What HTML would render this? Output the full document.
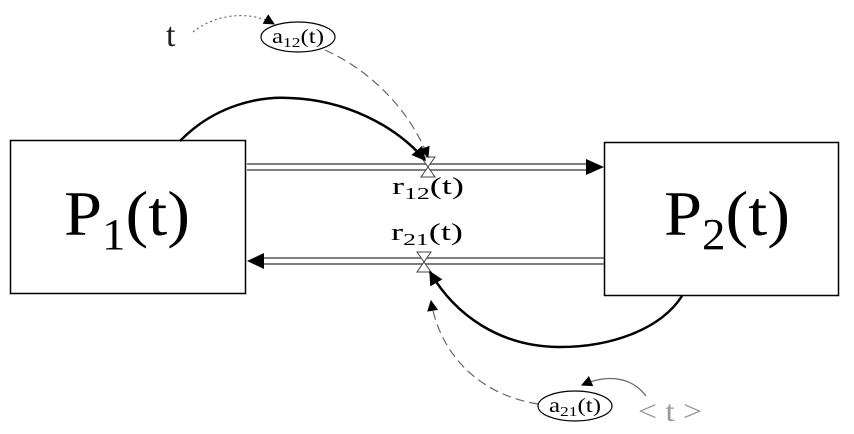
<!DOCTYPE html>
<html><head><meta charset="utf-8"><style>
html,body{margin:0;padding:0;background:#fff;}
svg{display:block;}
text{font-family:"Liberation Serif","DejaVu Serif",serif;}
</style></head><body>
<svg width="854" height="434" viewBox="0 0 854 434" xmlns="http://www.w3.org/2000/svg">
<defs>
<marker id="ahb" viewBox="0 0 10 10" refX="9" refY="5" markerWidth="18" markerHeight="14" orient="auto" markerUnits="userSpaceOnUse"><path d="M0,0 L10,5 L0,10 z" fill="#000"/></marker>
<marker id="ahs" viewBox="0 0 10 10" refX="9" refY="5" markerWidth="13" markerHeight="11" orient="auto" markerUnits="userSpaceOnUse"><path d="M0,0 L10,5 L0,10 z" fill="#000"/></marker>
</defs>
<rect x="10.5" y="140.5" width="235" height="153" fill="#fff" stroke="#000" stroke-width="1.5"/>
<rect x="604.5" y="142.5" width="234" height="153" fill="#fff" stroke="#000" stroke-width="1.5"/>
<text x="64" y="235" font-size="64" textLength="126" lengthAdjust="spacingAndGlyphs">P<tspan font-size="44" dy="14">1</tspan><tspan dy="-14">(t)</tspan></text>
<text x="664" y="235" font-size="64" textLength="126" lengthAdjust="spacingAndGlyphs">P<tspan font-size="44" dy="14">2</tspan><tspan dy="-14">(t)</tspan></text>
<line x1="247" y1="164" x2="590" y2="164" stroke="#555" stroke-width="1.5"/>
<line x1="247" y1="170" x2="590" y2="170" stroke="#555" stroke-width="1.5"/>
<path d="M586,159 L604,167 L586,175 z" fill="#000"/>
<path d="M421,157 L435,157 L421,177 L435,177 z" fill="#fff" stroke="#444" stroke-width="1"/>
<text x="392" y="194" font-size="24" textLength="72" lengthAdjust="spacingAndGlyphs">r<tspan font-size="17" dy="5">12</tspan><tspan dy="-5">(t)</tspan></text>
<line x1="262" y1="258" x2="604" y2="258" stroke="#555" stroke-width="1.5"/>
<line x1="262" y1="264" x2="604" y2="264" stroke="#555" stroke-width="1.5"/>
<path d="M264,253 L247,261 L264,269 z" fill="#000"/>
<path d="M417,252 L431,252 L417,272 L431,272 z" fill="#fff" stroke="#444" stroke-width="1"/>
<text x="391" y="240" font-size="24" textLength="72" lengthAdjust="spacingAndGlyphs">r<tspan font-size="17" dy="5">21</tspan><tspan dy="-5">(t)</tspan></text>
<path d="M180,141 C215,105 260,96 290,98 C345,100 395,125 425,160" fill="none" stroke="#000" stroke-width="2.5" marker-end="url(#ahb)"/>
<path d="M682,296 C660,330 610,347 560,347 C500,347 455,315 430,272" fill="none" stroke="#000" stroke-width="2.5" marker-end="url(#ahb)"/>
<path d="M325,50 C370,70 410,110 428,157" fill="none" stroke="#666" stroke-width="1.2" stroke-dasharray="9,5" marker-end="url(#ahs)"/>
<path d="M538,404 C480,395 440,355 431,301" fill="none" stroke="#666" stroke-width="1.2" stroke-dasharray="9,5" marker-end="url(#ahs)"/>
<text x="166" y="46" font-size="34" fill="#222">t</text>
<path d="M193,32 C215,14 250,10 274,24" fill="none" stroke="#666" stroke-width="1.2" stroke-dasharray="2,3" marker-end="url(#ahs)"/>
<ellipse cx="298" cy="37" rx="37" ry="15" fill="#fff" stroke="#000" stroke-width="1.2"/>
<text x="272" y="43" font-size="20" textLength="52" lengthAdjust="spacingAndGlyphs">a<tspan font-size="14" dy="4">12</tspan><tspan dy="-4">(t)</tspan></text>
<ellipse cx="575" cy="406" rx="37" ry="15" fill="#fff" stroke="#000" stroke-width="1.2"/>
<text x="549" y="412" font-size="20" textLength="52" lengthAdjust="spacingAndGlyphs">a<tspan font-size="14" dy="4">21</tspan><tspan dy="-4">(t)</tspan></text>
<path d="M646,396 C630,375 605,375 582,385" fill="none" stroke="#666" stroke-width="1.2" marker-end="url(#ahs)"/>
<text x="638" y="421" font-size="30" fill="#999" textLength="64" lengthAdjust="spacingAndGlyphs">&lt; t &gt;</text>
</svg>
</body></html>
